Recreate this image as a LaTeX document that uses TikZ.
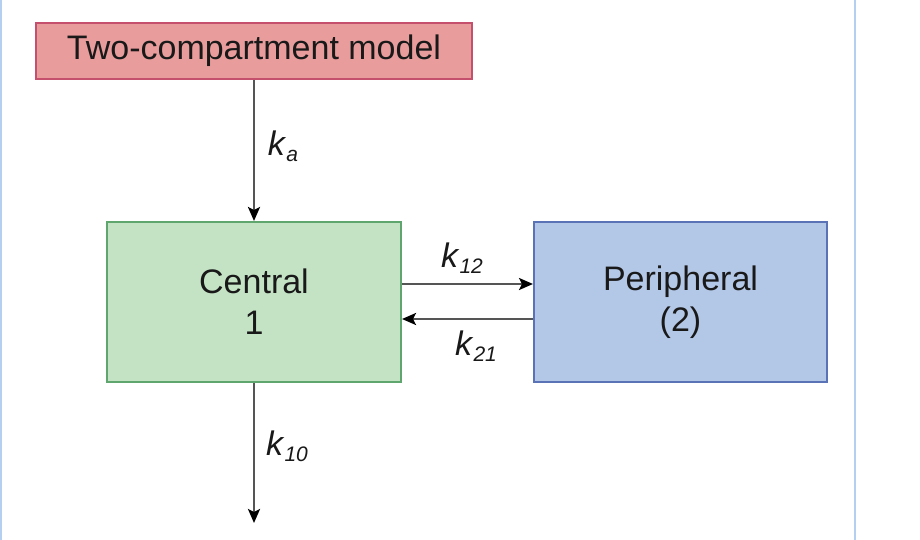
\documentclass[tikz,border=0pt]{standalone}
\usepackage{fontspec}
\setmainfont{Liberation Sans}
\usetikzlibrary{arrows.meta,positioning}
\definecolor{redfill}{HTML}{E99C9C}
\definecolor{reddraw}{HTML}{C4506E}
\definecolor{greenfill}{HTML}{C4E3C5}
\definecolor{greendraw}{HTML}{5EA66E}
\definecolor{bluefill}{HTML}{B3C7E7}
\definecolor{bluedraw}{HTML}{5A72B6}
\definecolor{edgeblue}{HTML}{B4CFF0}
\definecolor{linegray}{HTML}{555555}
\newcommand{\kk}[1]{\textit{k}\raisebox{-6pt}{\fontsize{21}{24}\selectfont\textit{#1}}}
\begin{document}
\begin{tikzpicture}[x=1pt,y=1pt,
  box/.style={rectangle, line width=2pt, inner sep=0pt, align=center,
    font=\fontsize{34}{41}\selectfont, text=black!90},
  flow/.style={draw=linegray, line width=2.4pt, -{Stealth[length=14pt,width=12pt,inset=3pt,color=black]}},
  klabel/.style={font=\fontsize{34}{40}\selectfont, text=black!90, inner sep=0pt}]
\useasboundingbox (0,0) rectangle (920,-540);
\fill[white] (0,0) rectangle (920,-540);
\draw[edgeblue, line width=2pt] (1,0) -- (1,-540);
\draw[edgeblue, line width=2pt] (855,0) -- (855,-540);
\node[box, fill=redfill, draw=reddraw, minimum width=436pt, minimum height=56pt] (model) at (254,-51) {Two-compartment model};
\node[box, fill=greenfill, draw=greendraw, minimum width=294pt, minimum height=160pt] (central) at (254,-302) {Central\\1};
\node[box, fill=bluefill, draw=bluedraw, minimum width=293pt, minimum height=160pt] (periph) at (680.5,-302) {Peripheral\\(2)};
\coordinate (out) at (254,-523);
\draw[flow] (model.south) -- (central.north);
\draw[flow] (central.south) -- (out);
\draw[flow] ([yshift=18pt]central.east) -- ([yshift=18pt]periph.west);
\draw[flow] ([yshift=-17pt]periph.west) -- ([yshift=-17pt]central.east);
\node[klabel] (ka) at (283,-146) {\kk{a}};
\node[klabel] (k10) at (287,-446) {\kk{10}};
\node[klabel] (k12) at (462,-258) {\kk{12}};
\node[klabel] (k21) at (476,-346) {\kk{21}};
\end{tikzpicture}
\end{document}
